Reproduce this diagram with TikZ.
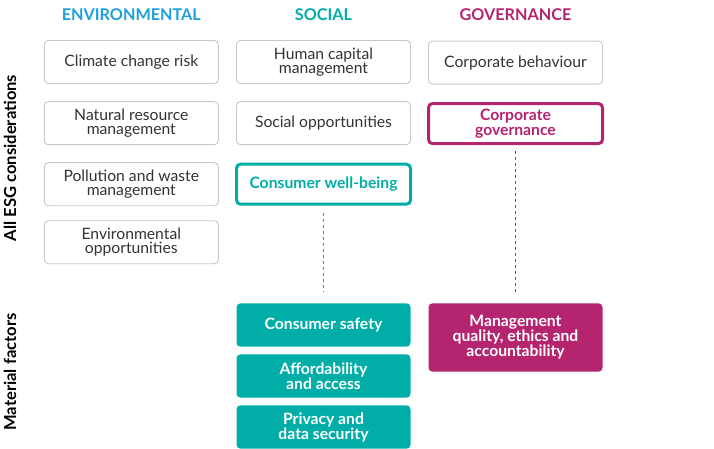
\documentclass[tikz,border=0pt]{standalone}
\usepackage{fontspec}
\setmainfont{Lato}
\definecolor{envblue}{HTML}{1EA0DC}
\definecolor{socteal}{HTML}{00ADA7}
\definecolor{govmag}{HTML}{B4246F}
\definecolor{boxgray}{HTML}{C8C8C8}
\definecolor{txtgray}{HTML}{333333}
\tikzset{
  base/.style={rectangle, rounded corners=4pt, minimum width=174pt, inner sep=0pt, align=center},
  plain/.style={base, draw=boxgray, line width=0.9pt, minimum height=43pt, text=txtgray, font=\fontsize{15.7}{14.6}\selectfont},
  hiS/.style={base, draw=socteal, line width=3pt, minimum height=40pt, text=socteal, font=\bfseries\fontsize{15.7}{14.6}\selectfont},
  hiG/.style={base, draw=govmag, line width=3pt, minimum height=40pt, text=govmag, font=\bfseries\fontsize{15.7}{14.6}\selectfont},
  fillS/.style={base, fill=socteal, minimum height=43.4pt, text=white, font=\bfseries\fontsize{15.7}{15}\selectfont},
  fillG/.style={base, fill=govmag, minimum height=68.4pt, text=white, font=\bfseries\fontsize{15.7}{15}\selectfont},
  head/.style={font=\bfseries\fontsize{16.2}{17}\selectfont, inner sep=0pt},
  side/.style={font=\bfseries\fontsize{16.6}{17}\selectfont, rotate=90, inner sep=0pt, text=black},
  link/.style={line width=1pt, dash pattern=on 3pt off 3pt},
}
\begin{document}
\begin{tikzpicture}[x=1pt,y=-1pt]
\useasboundingbox (0,0) rectangle (714,449);
% headers
\node[head, text=envblue] (hE) at (131.3,14.5) {ENVIRONMENTAL};
\node[head, text=socteal] (hS) at (323.5,14.5) {SOCIAL};
\node[head, text=govmag] (hG) at (515.5,14.5) {GOVERNANCE};
% side labels
\node[side] (sA) at (10,158) {All ESG considerations};
\node[side] (sM) at (10,372) {Material factors};
% environmental
\node[plain] (e1) at (131.3,62) {Climate change risk};
\node[plain] (e2) at (131.3,123.2) {Natural resource\\management};
\node[plain] (e3) at (131.3,184.2) {Pollution and waste\\management};
\node[plain] (e4) at (131.3,242.2) {Environmental\\opportunities};
% social
\node[plain] (s1) at (323.5,62) {Human capital\\management};
\node[plain] (s2) at (323.5,123.2) {Social opportunities};
\node[hiS] (s3) at (323.5,184.2) {Consumer well-being};
\node[fillS] (m1) at (323.5,325) {Consumer safety};
\node[fillS] (m2) at (323.5,376) {Affordability\\and access};
\node[fillS] (m3) at (323.5,427) {Privacy and\\data security};
% governance
\node[plain] (g1) at (515.5,62.6) {Corporate behaviour};
\node[hiG] (g2) at (515.5,123.6) {Corporate\\governance};
\node[fillG] (mg) at (515.5,337.5) {Management\\quality, ethics and\\accountability};
% links
\draw[link, draw=socteal] ([yshift=-7pt]s3.south) -- ([yshift=11pt]m1.north);
\draw[link, draw=govmag] ([yshift=-6pt]g2.south) -- ([yshift=10pt]mg.north);
\end{tikzpicture}
\end{document}
